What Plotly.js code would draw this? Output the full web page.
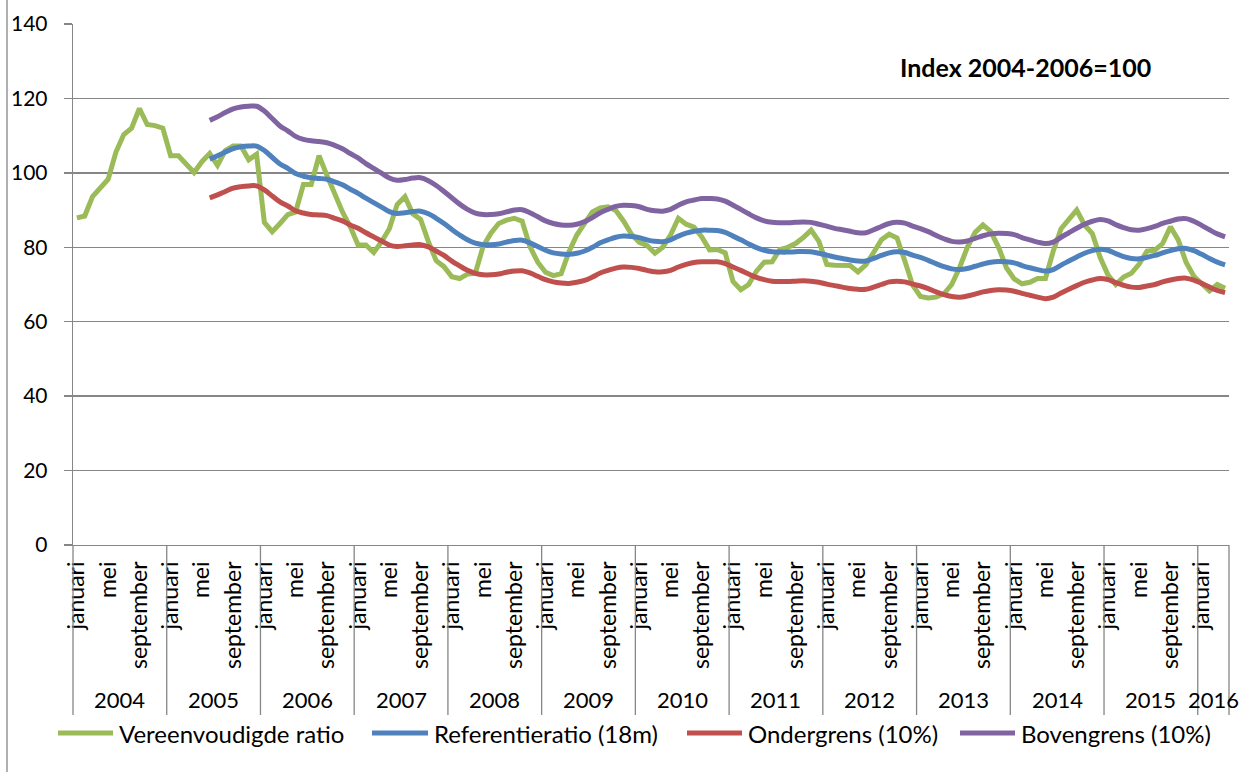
<!DOCTYPE html>
<html>
<head>
<meta charset="utf-8">
<script src="https://cdn.plot.ly/plotly-3.0.1.min.js"></script>
<style>html,body{margin:0;padding:0;background:#fff;}#chart{width:1253px;height:772px;}</style>
</head>
<body>
<div id="chart"></div>
<script>
// ---- categories ----
const years = ['2004','2005','2006','2007','2008','2009','2010','2011','2012','2013','2014','2015','2016'];
const monthNames = ['januari','februari','maart','april','mei','juni','juli','augustus','september','oktober','november','december'];
const labelledMonths = ['januari','mei','september'];

// ---- Vereenvoudigde ratio (monthly) ----
const ratio2004 = [87.9, 88.4, 93.6, 95.8, 98.3, 105.6, 110.3, 112, 117.3, 113, 112.7, 112];
const ratio2005 = [104.6, 104.6, 102.5, 100.1, 103, 105.2, 102, 106, 107.2, 107.2, 103.5, 105];
const ratio2006 = [86.7, 84.2, 86.4, 88.8, 89.5, 96.9, 96.9, 104.6, 99.4, 94, 89.5, 85.5];
const ratio2007 = [80.6, 80.6, 78.6, 81.5, 85, 91.5, 93.6, 89, 87.5, 81.5, 76.4, 74.8];
const ratio2008 = [72.1, 71.6, 72.8, 73, 80.2, 83.8, 86.4, 87.3, 87.8, 87, 80.2, 76];
const ratio2009 = [73.3, 72.4, 72.9, 78.8, 83.3, 86.4, 89.5, 90.6, 90.9, 89.9, 87, 83.5];
const ratio2010 = [81.3, 80.5, 78.4, 80, 83.3, 87.8, 86.2, 85.4, 82.8, 79.3, 79.4, 78.5];
const ratio2011 = [70.8, 68.6, 70, 73.6, 76, 76.1, 79.4, 80, 81, 82.6, 84.6, 81.6];
const ratio2012 = [75.4, 75.2, 75.2, 75.1, 73.4, 75.3, 78.6, 82, 83.5, 82.5, 76.3, 69.8];
const ratio2013 = [66.8, 66.4, 66.6, 67.5, 70, 74.5, 80, 84, 86, 84.2, 80, 74.5];
const ratio2014 = [71.5, 70.2, 70.6, 71.6, 71.6, 79, 85, 87.6, 90, 86, 83.7, 77.3];
const ratio2015 = [72.6, 70, 72, 73, 75.5, 79, 79.2, 81, 85.5, 82, 76, 72.2];
const ratio2016 = [70.4, 68.3, 70, 69];

// ---- Referentieratio (18m) ----
const ref2004 = [null, null, null, null, null, null, null, null, null, null, null, null];
const ref2005 = [null, null, null, null, null, 103.7, 104.6, 105.6, 106.5, 107, 107.2, 107.2];
const ref2006 = [106, 104.2, 102.4, 101.2, 99.8, 99.1, 98.7, 98.5, 98.3, 97.6, 96.8, 95.6];
const ref2007 = [94.5, 93.2, 92, 90.8, 89.6, 89.1, 89.3, 89.6, 89.7, 89, 87.8, 86.4];
const ref2008 = [84.8, 83.3, 82, 81.1, 80.7, 80.7, 80.9, 81.4, 81.8, 81.9, 81.2, 80.2];
const ref2009 = [79.2, 78.5, 78.2, 78.1, 78.4, 79, 80, 81.2, 82, 82.7, 83, 82.9];
const ref2010 = [82.6, 82, 81.6, 81.5, 82, 83, 83.8, 84.3, 84.6, 84.6, 84.5, 84];
const ref2011 = [83, 82, 80.9, 79.9, 79.2, 78.8, 78.7, 78.7, 78.8, 78.9, 78.8, 78.4];
const ref2012 = [77.9, 77.4, 77, 76.6, 76.3, 76.3, 77, 77.8, 78.5, 78.8, 78.6, 77.9];
const ref2013 = [77.3, 76.5, 75.6, 74.8, 74.2, 74, 74.3, 74.9, 75.5, 76, 76.2, 76.1];
const ref2014 = [75.8, 75.1, 74.5, 74, 73.6, 74, 75.2, 76.3, 77.4, 78.4, 79.1, 79.5];
const ref2015 = [79.2, 78.3, 77.5, 77, 76.9, 77.3, 77.8, 78.5, 79.1, 79.6, 79.7, 79.1];
const ref2016 = [78.1, 77, 76, 75.3];

// ---- Ondergrens (10%) ----
const low2004 = [null, null, null, null, null, null, null, null, null, null, null, null];
const low2005 = [null, null, null, null, null, 93.3, 94.1, 95.0, 95.9, 96.3, 96.5, 96.5];
const low2006 = [95.4, 93.8, 92.2, 91.1, 89.8, 89.2, 88.8, 88.7, 88.5, 87.8, 87.1, 86.0];
const low2007 = [85.1, 83.9, 82.8, 81.7, 80.6, 80.2, 80.4, 80.6, 80.7, 80.1, 79.0, 77.8];
const low2008 = [76.3, 75.0, 73.8, 73.0, 72.6, 72.6, 72.8, 73.3, 73.6, 73.7, 73.1, 72.2];
const low2009 = [71.3, 70.7, 70.4, 70.3, 70.6, 71.1, 72.0, 73.1, 73.8, 74.4, 74.7, 74.6];
const low2010 = [74.3, 73.8, 73.4, 73.4, 73.8, 74.7, 75.4, 75.9, 76.1, 76.1, 76.1, 75.6];
const low2011 = [74.7, 73.8, 72.8, 71.9, 71.3, 70.9, 70.8, 70.8, 70.9, 71.0, 70.9, 70.6];
const low2012 = [70.1, 69.7, 69.3, 68.9, 68.7, 68.7, 69.3, 70.0, 70.7, 70.9, 70.7, 70.1];
const low2013 = [69.6, 68.9, 68.0, 67.3, 66.8, 66.6, 66.9, 67.4, 68.0, 68.4, 68.6, 68.5];
const low2014 = [68.2, 67.6, 67.1, 66.6, 66.2, 66.6, 67.7, 68.7, 69.7, 70.6, 71.2, 71.6];
const low2015 = [71.3, 70.5, 69.8, 69.3, 69.2, 69.6, 70.0, 70.7, 71.2, 71.6, 71.7, 71.2];
const low2016 = [70.3, 69.3, 68.4, 67.8];

// ---- Bovengrens (10%) ----
const high2004 = [null, null, null, null, null, null, null, null, null, null, null, null];
const high2005 = [null, null, null, null, null, 114.1, 115.1, 116.2, 117.2, 117.7, 117.9, 117.9];
const high2006 = [116.6, 114.6, 112.6, 111.3, 109.8, 109.0, 108.6, 108.4, 108.1, 107.4, 106.5, 105.2];
const high2007 = [104.0, 102.5, 101.2, 99.9, 98.6, 98.0, 98.2, 98.6, 98.7, 97.9, 96.6, 95.0];
const high2008 = [93.3, 91.6, 90.2, 89.2, 88.8, 88.8, 89.0, 89.5, 90.0, 90.1, 89.3, 88.2];
const high2009 = [87.1, 86.4, 86.0, 85.9, 86.2, 86.9, 88.0, 89.3, 90.2, 91.0, 91.3, 91.2];
const high2010 = [90.9, 90.2, 89.8, 89.7, 90.2, 91.3, 92.2, 92.7, 93.1, 93.1, 93.0, 92.4];
const high2011 = [91.3, 90.2, 89.0, 87.9, 87.1, 86.7, 86.6, 86.6, 86.7, 86.8, 86.7, 86.2];
const high2012 = [85.7, 85.1, 84.7, 84.3, 83.9, 83.9, 84.7, 85.6, 86.4, 86.7, 86.5, 85.7];
const high2013 = [85.0, 84.2, 83.2, 82.3, 81.6, 81.4, 81.7, 82.4, 83.1, 83.6, 83.8, 83.7];
const high2014 = [83.4, 82.6, 82.0, 81.4, 81.0, 81.4, 82.7, 83.9, 85.1, 86.2, 87.0, 87.5];
const high2015 = [87.1, 86.1, 85.3, 84.7, 84.6, 85.0, 85.6, 86.4, 87.0, 87.6, 87.7, 87.0];
const high2016 = [85.9, 84.7, 83.6, 82.8];

const seriesNames = ['Vereenvoudigde ratio', 'Referentieratio (18m)', 'Ondergrens (10%)', 'Bovengrens (10%)'];
const seriesColors = ['#9BBB59', '#4F81BD', '#C0504D', '#8064A2'];

// ---- assemble ----
const ratio = [].concat(ratio2004, ratio2005, ratio2006, ratio2007, ratio2008, ratio2009, ratio2010, ratio2011, ratio2012, ratio2013, ratio2014, ratio2015, ratio2016);
const ref = [].concat(ref2004, ref2005, ref2006, ref2007, ref2008, ref2009, ref2010, ref2011, ref2012, ref2013, ref2014, ref2015, ref2016);
const low = [].concat(low2004, low2005, low2006, low2007, low2008, low2009, low2010, low2011, low2012, low2013, low2014, low2015, low2016);
const high = [].concat(high2004, high2005, high2006, high2007, high2008, high2009, high2010, high2011, high2012, high2013, high2014, high2015, high2016);

const n = ratio.length;
const xIdx = ratio.map((_, i) => i);
const tickVals = [], tickText = [];
xIdx.forEach(i => {
  const m = monthNames[i % 12];
  if (labelledMonths.indexOf(m) >= 0) { tickVals.push(i); tickText.push(m); }
});

const FONT = 'Lato, "Open Sans", sans-serif';
const GRID = '#868686';
const xmin = -0.5, xmax = n - 0.5;
const L = 73, R = 1229, T = 24, B = 545;
const px = p => (p - L) / (R - L);       // page x -> paper
const py = p => (B - p) / (B - T);       // page y -> paper
const ix = i => (i - xmin) / (xmax - xmin); // data index -> paper

const traces = [ratio, ref, low, high].map((vals, k) => ({
  type: 'scatter', mode: 'lines', x: xIdx, y: vals, name: seriesNames[k],
  line: {color: seriesColors[k], width: 5, shape: k === 0 ? 'linear' : 'spline', smoothing: 1},
  connectgaps: false, showlegend: false, hoverinfo: 'x+y'
}));

const shapes = [];
const annotations = [];
// year dividers
for (let k = 0; k <= years.length - 1; k++) {
  shapes.push({type: 'line', xref: 'paper', yref: 'paper', x0: ix(k * 12 - 0.5), x1: ix(k * 12 - 0.5), y0: 0, y1: py(715), line: {color: GRID, width: 1.3}});
}
shapes.push({type: 'line', xref: 'paper', yref: 'paper', x0: 1, x1: 1, y0: 0, y1: py(715), line: {color: GRID, width: 1.3}});
// year labels
years.forEach((yr, k) => {
  const a = k * 12 - 0.5, b = Math.min(k * 12 + 11.5, xmax);
  annotations.push({xref: 'paper', yref: 'paper', x: (ix(a) + ix(b)) / 2, y: py(699), text: yr, showarrow: false, xanchor: 'center', yanchor: 'middle', font: {family: FONT, size: 22, color: '#000'}});
});
// chart border (left)
shapes.push({type: 'line', xref: 'paper', yref: 'paper', x0: px(7), x1: px(7), y0: py(0), y1: py(772), line: {color: GRID, width: 1.3}});
// index note
annotations.push({xref: 'paper', yref: 'paper', x: px(1025), y: py(67), text: '<b>Index 2004-2006=100</b>', showarrow: false, xanchor: 'center', yanchor: 'middle', font: {family: FONT, size: 25, color: '#000'}});
// legend (manual)
const legendPos = [[58, 113, 117], [372, 428, 432], [687, 742, 746], [960, 1015, 1019]];
legendPos.forEach((p, k) => {
  shapes.push({type: 'line', xref: 'paper', yref: 'paper', x0: px(p[0]), x1: px(p[1]), y0: py(733), y1: py(733), line: {color: seriesColors[k], width: 5}});
  annotations.push({xref: 'paper', yref: 'paper', x: px(p[2]), y: py(733), text: seriesNames[k], showarrow: false, xanchor: 'left', yanchor: 'middle', font: {family: FONT, size: 24, color: '#000'}});
});

const layout = {
  width: 1253, height: 772,
  margin: {l: L, r: 1253 - R, t: T, b: 772 - B, pad: 0},
  paper_bgcolor: '#fff', plot_bgcolor: '#fff',
  font: {family: FONT, size: 20, color: '#000'},
  showlegend: false,
  xaxis: {
    range: [xmin, xmax], tickmode: 'array', tickvals: tickVals, ticktext: tickText,
    tickangle: -90, ticks: '', showgrid: false, zeroline: false,
    showline: true, linecolor: GRID, linewidth: 1.3,
    tickfont: {family: FONT, size: 23, color: '#000'}, ticklabelstandoff: 6
  },
  yaxis: {
    range: [0, 140], dtick: 20, tick0: 0, showgrid: true, gridcolor: GRID, gridwidth: 1.3,
    zeroline: false, showline: true, linecolor: GRID, linewidth: 1.3,
    ticks: 'outside', ticklen: 8, tickcolor: GRID, tickwidth: 1.3,
    tickfont: {family: FONT, size: 21, color: '#000'}, ticklabelstandoff: 12
  },
  shapes: shapes, annotations: annotations
};

Plotly.newPlot('chart', traces, layout, {displayModeBar: false, staticPlot: true});
</script>
</body>
</html>
